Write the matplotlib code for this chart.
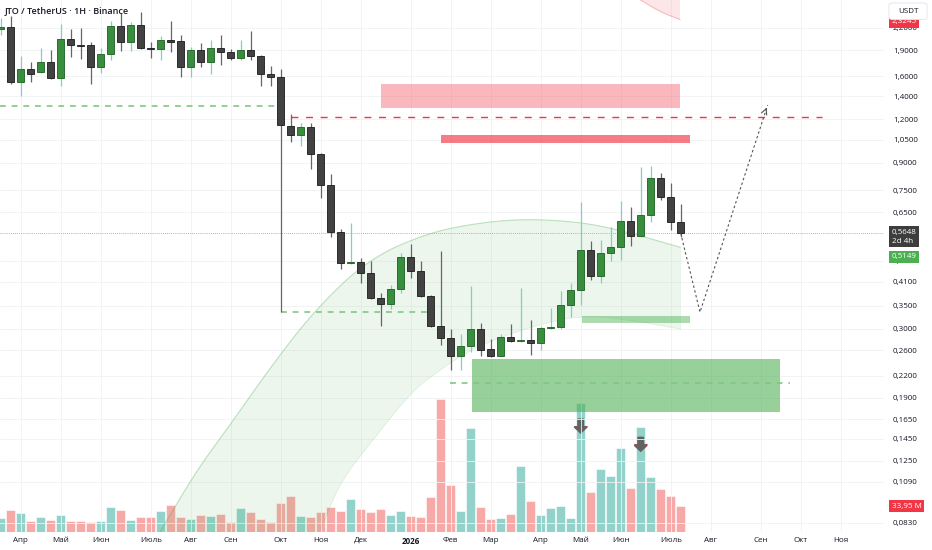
import numpy as np
import matplotlib
matplotlib.use('Agg')
import matplotlib.pyplot as plt
import matplotlib.transforms as mtransforms
from matplotlib.patches import Rectangle, Polygon, FancyArrow, FancyBboxPatch
from matplotlib.ticker import NullLocator

plt.rcParams['font.family'] = ['Open Sans', 'DejaVu Sans']

# weekly candles (price in USDT)
opens = [2.18, 2.22, 1.54, 1.68, 1.64, 1.75, 1.58, 2.04, 1.96, 1.96,
         1.70, 1.85, 2.23, 2.00, 2.25, 1.93, 1.91, 2.03, 2.02, 1.70,
         1.90, 1.76, 1.93, 1.87, 1.80, 1.90, 1.83, 1.62, 1.59, 1.15,
         1.08, 1.14, 0.955, 0.777, 0.571, 0.463, 0.466, 0.433, 0.367, 0.353,
         0.391, 0.483, 0.441, 0.373, 0.306, 0.282, 0.251, 0.268, 0.30, 0.262,
         0.251, 0.285, 0.277, 0.278, 0.273, 0.302, 0.303, 0.351, 0.388, 0.505,
         0.426, 0.497, 0.517, 0.614, 0.555, 0.638, 0.816, 0.717, 0.607]
highs = [2.35, 2.38, 1.83, 1.76, 1.93, 1.90, 2.26, 2.19, 2.20, 2.00,
         1.92, 2.30, 2.43, 2.29, 2.45, 2.00, 2.08, 2.30, 2.10, 1.94,
         1.99, 2.03, 2.10, 1.91, 2.03, 2.15, 1.84, 1.71, 1.68, 1.24,
         1.17, 1.17, 0.96, 0.836, 0.58, 0.606, 0.48, 0.47, 0.38, 0.40,
         0.495, 0.525, 0.47, 0.375, 0.503, 0.30, 0.29, 0.398, 0.311, 0.28,
         0.29, 0.31, 0.394, 0.318, 0.305, 0.344, 0.385, 0.405, 0.696, 0.537,
         0.54, 0.587, 0.70, 0.674, 0.874, 0.882, 0.84, 0.79, 0.685]
lows = [2.10, 1.52, 1.40, 1.54, 1.63, 1.57, 1.50, 1.82, 1.79, 1.52,
        1.63, 1.78, 1.89, 1.89, 1.91, 1.80, 1.78, 1.87, 1.59, 1.59,
        1.70, 1.62, 1.72, 1.78, 1.78, 1.78, 1.50, 1.50, 0.336, 1.036,
        1.007, 0.862, 0.712, 0.552, 0.445, 0.46, 0.405, 0.365, 0.306, 0.342,
        0.38, 0.42, 0.37, 0.304, 0.27, 0.228, 0.228, 0.258, 0.25, 0.249,
        0.25, 0.275, 0.275, 0.252, 0.26, 0.30, 0.30, 0.325, 0.351, 0.415,
        0.405, 0.47, 0.474, 0.52, 0.55, 0.61, 0.704, 0.577, 0.55]
closes = [2.21, 1.54, 1.68, 1.62, 1.75, 1.58, 2.04, 1.96, 1.955, 1.70,
          1.85, 2.23, 2.00, 2.25, 1.92, 1.91, 2.03, 2.00, 1.70, 1.90,
          1.76, 1.93, 1.87, 1.80, 1.90, 1.83, 1.62, 1.59, 1.16, 1.08,
          1.14, 0.955, 0.777, 0.571, 0.463, 0.466, 0.433, 0.367, 0.353, 0.391,
          0.483, 0.441, 0.373, 0.306, 0.282, 0.251, 0.268, 0.30, 0.261, 0.251,
          0.285, 0.277, 0.278, 0.273, 0.302, 0.304, 0.351, 0.388, 0.505, 0.426,
          0.497, 0.517, 0.614, 0.555, 0.638, 0.816, 0.717, 0.607, 0.5648]
# volume, millions
volumes = [17.9, 28.7, 24.4, 14.4, 19.2, 15.7, 21.8, 14.4, 14.4, 13.1,
           14.4, 33.0, 28.3, 15.7, 20.0, 19.6, 27.4, 35.3, 19.2, 17.0,
           22.2, 20.9, 23.5, 12.7, 31.3, 26.1, 16.6, 13.1, 37.5, 47.0,
           20.5, 19.2, 25.7, 33.0, 26.8, 42.7, 29.6, 26.5, 30.0, 22.2,
           27.8, 21.3, 20.0, 45.3, 173.7, 61.4, 27.8, 135.4, 33.0, 16.6,
           18.7, 23.1, 86.2, 40.5, 21.8, 31.7, 34.0, 17.9, 168.1, 52.6,
           81.9, 73.1, 110.1, 57.9, 136.7, 72.2, 55.8, 47.4, 33.95]

month_pos = [2, 6, 10, 15, 19, 23, 28, 32, 36, 41, 45, 49, 54, 58, 62, 67, 71, 76, 80, 84]
month_labels = ['Апр', 'Май', 'Июн', 'Июль', 'Авг', 'Сен', 'Окт', 'Ноя', 'Дек', '2026',
                'Фев', 'Мар', 'Апр', 'Май', 'Июн', 'Июль', 'Авг', 'Сен', 'Окт', 'Ноя']
price_ticks = [2.2, 1.9, 1.6, 1.4, 1.2, 1.05, 0.9, 0.75, 0.65, 0.47, 0.41, 0.35,
               0.30, 0.26, 0.22, 0.19, 0.165, 0.145, 0.125, 0.109, 0.083]

last_price = 0.5648
arc_end_price = 0.5149
top_label_price = 2.3245

# drawings
arc_outer_x = [15.1, 15.93, 19.63, 22.93, 26.93, 31.23, 36.63, 42.63, 48.23, 52.93, 57.93, 61.93, 67.93]
arc_outer_y = [0.0716, 0.0781, 0.1178, 0.1587, 0.2313, 0.335, 0.473, 0.566, 0.608, 0.621, 0.608, 0.577, 0.5149]
arc_inner_x = [67.93, 62.93, 57.93, 51.93, 46.93, 43.93, 41.23, 37.23, 33.93, 31.93, 31.2]
arc_inner_y = [0.2996, 0.318, 0.329, 0.298, 0.261, 0.228, 0.200, 0.1437, 0.1087, 0.0781, 0.0716]
pink_arc_x = [63.5, 65.9, 67.93]
pink_arc_y = [2.70, 2.45, 2.3245]
zones = [  # x0, x1, y0, y1, color, alpha
    (38.0, 67.93, 1.297, 1.514, '#f23645', 0.35),
    (44.0, 68.93, 1.025, 1.083, '#f23645', 0.65),
    (47.1, 77.93, 0.173, 0.245, '#4caf50', 0.58),
    (58.1, 68.93, 0.311, 0.327, '#4caf50', 0.45),
]
projection_x = [68.0, 69.93, 76.7]
projection_y = [0.5648, 0.335, 1.32]


def smooth(xs, ys, n=3):
    pts = np.column_stack([xs, np.log(ys)])
    for _ in range(n):
        q = 0.75 * pts[:-1] + 0.25 * pts[1:]
        r = 0.25 * pts[:-1] + 0.75 * pts[1:]
        new = np.empty((2 * len(q), 2))
        new[0::2] = q
        new[1::2] = r
        pts = np.vstack([pts[:1], new, pts[-1:]])
    return pts[:, 0], np.exp(pts[:, 1])


o, h, l, c = map(np.array, (opens, highs, lows, closes))
idx = np.arange(len(o))
up = c >= o

W, H = 932, 550
fig = plt.figure(figsize=(W / 100, H / 100), dpi=100, facecolor='white')
rect = [0, 18 / H, 884 / W, 532 / H]
xlim = (-0.07, 88.33)
fs = 5.8

# volume pane
axv = fig.add_axes(rect, zorder=0)
axv.bar(idx, volumes, width=0.92, color=np.where(up, '#92d2cb', '#f7a9a7'),
        edgecolor='white', linewidth=0.4)
axv.set_xlim(*xlim)
axv.set_ylim(0, 695)
axv.axis('off')
for k, top, red in [(58, 147.6, 138.0), (64, 123.7, 115.0)]:
    axv.add_patch(FancyArrow(k, top, 0, -18.3, width=0.55, head_width=1.3, head_length=8,
                             length_includes_head=True, color='#636363', zorder=5))
    axv.hlines(red, k - 0.65, k + 0.65, colors='#f23645', lw=0.8, zorder=4)

ax = fig.add_axes(rect, zorder=1)
ax.set_facecolor('none')
ax.set_yscale('log')
ax.set_xlim(*xlim)
ax.set_ylim(0.0781, 2.647)

# green arc
ox, oy = smooth(arc_outer_x, arc_outer_y)
ix, iy = smooth(arc_inner_x, arc_inner_y)
ax.add_patch(Polygon(np.column_stack([np.r_[ox, ix], np.r_[oy, iy]]), closed=True,
                     facecolor='#4caf50', alpha=0.1, edgecolor='none', zorder=1))
ax.plot(ox, oy, color='#4caf50', alpha=0.35, lw=0.8, zorder=1)
ax.plot(ix, iy, color='#4caf50', alpha=0.15, lw=0.6, zorder=1)
ax.plot([ox[-1], ix[0]], [oy[-1], iy[0]], color='#4caf50', alpha=0.15, lw=0.6, zorder=1)

# pink arc at the top
px, py = smooth(pink_arc_x, pink_arc_y, 2)
ax.add_patch(Polygon(np.column_stack([np.r_[px, 67.93], np.r_[py, 2.70]]), closed=True,
                     facecolor='#f23645', alpha=0.12, edgecolor='none', zorder=1))
ax.plot(px, py, color='#f23645', alpha=0.3, lw=0.8, zorder=1)

for x0, x1, y0, y1, col, a in zones:
    ax.add_patch(Rectangle((x0, y0), x1 - x0, y1 - y0, facecolor=col, alpha=a,
                           edgecolor='none', zorder=2))

ax.hlines(1.314, xlim[0], 27.6, colors='#81c784', linestyles=(0, (3.5, 3.5)), lw=1.2, zorder=3)
ax.hlines(0.336, 28.0, 42.6, colors='#81c784', linestyles=(0, (3.5, 3.5)), lw=1.2, zorder=3)
ax.hlines(0.2095, 44.9, 78.9, colors='#81c784', linestyles=(0, (3.5, 3.5)), lw=1.2, zorder=3)
ax.hlines(1.222, 29.0, 82.1, colors='#f23645', linestyles=(0, (5, 5.5)), lw=1.0, zorder=3)
ax.vlines(29.0, 1.20, 1.245, colors='#f23645', lw=0.8, zorder=3)
ax.axhline(last_price, color='#9598a1', lw=0.6, ls=(0, (1, 1.5)), zorder=3)

# candles
ax.vlines(idx, l, h, colors=np.where(up, '#7fd0c2', '#666666'), lw=0.9, zorder=4)
ax.bar(idx, np.abs(c - o), bottom=np.minimum(o, c), width=0.7,
       color=np.where(up, '#388e3c', '#424242'),
       edgecolor=np.where(up, '#1b5e20', '#1a1a1a'), linewidth=0.6, zorder=5)

ax.plot(projection_x, projection_y, color='#555555', lw=0.8, ls=(0, (2.2, 2.2)), zorder=6)
ax.annotate('', xy=(projection_x[-1], projection_y[-1]),
            xytext=(projection_x[-1] - 0.25, projection_y[-1] * 0.96),
            arrowprops=dict(arrowstyle='->', color='#555555', lw=0.8), zorder=6)

# axes styling
ax.yaxis.tick_right()
ax.set_yticks(price_ticks)
ax.set_yticklabels([f'{v:.4f}'.replace('.', ',') for v in price_ticks])
ax.yaxis.set_minor_locator(NullLocator())
ax.set_xticks(month_pos)
ax.set_xticklabels(month_labels)
ax.get_xticklabels()[9].set_fontweight('bold')
ax.tick_params(axis='y', length=0, pad=6.5, labelsize=fs, labelcolor='#131722')
ax.tick_params(axis='x', length=0, pad=3.5, labelsize=fs, labelcolor='#131722')
ax.grid(True, color='#f0f1f4', lw=0.6)
ax.set_axisbelow(True)
for s in ax.spines.values():
    s.set_visible(False)

# price labels on the right
trans = mtransforms.blended_transform_factory(ax.transAxes, ax.transData)
ax.annotate('0,5648\n2d 4h', xy=(1, last_price), xycoords=trans, xytext=(5.5, 3.2),
            textcoords='offset points', ha='left', va='top', fontsize=fs, color='white',
            linespacing=1.35, annotation_clip=False,
            bbox=dict(boxstyle='square,pad=0.35', fc='#3d3d3d', ec='none'))
ax.annotate('0,5149', xy=(1, arc_end_price), xycoords=trans, xytext=(5.5, -6.8),
            textcoords='offset points', ha='left', va='center', fontsize=fs, color='white',
            annotation_clip=False, bbox=dict(boxstyle='square,pad=0.3', fc='#4caf50', ec='none'))
ax.annotate('2,3245', xy=(1, top_label_price), xycoords=trans, xytext=(5.5, -1.5),
            textcoords='offset points', ha='left', va='center', fontsize=fs, color='white',
            annotation_clip=False, bbox=dict(boxstyle='square,pad=0.3', fc='#f23645', ec='none'))
vtrans = mtransforms.blended_transform_factory(axv.transAxes, axv.transData)
axv.annotate('33,95 M', xy=(1, volumes[-1]), xycoords=vtrans, xytext=(5.5, 0),
             textcoords='offset points', ha='left', va='center', fontsize=fs, color='white',
             annotation_clip=False, bbox=dict(boxstyle='square,pad=0.3', fc='#f23645', ec='none'))

# currency box covering the top label
fig.patches.append(FancyBboxPatch((889 / W, 1 - 19.5 / H), 38 / W, 16.5 / H,
                                  boxstyle='round,pad=0,rounding_size=0.004',
                                  transform=fig.transFigure, fc='white', ec='#e0e3eb',
                                  lw=0.6, zorder=10))
fig.text(908 / W, 1 - 11.3 / H, 'USDT', ha='center', va='center', fontsize=fs,
         color='#131722', zorder=11)
fig.text(5 / W, 1 - 10.5 / H, 'JTO / TetherUS · 1H · Binance', ha='left', va='center',
         fontsize=6.5, fontweight='semibold', color='#131722')

fig.savefig('out.png', dpi=100, facecolor='white')
